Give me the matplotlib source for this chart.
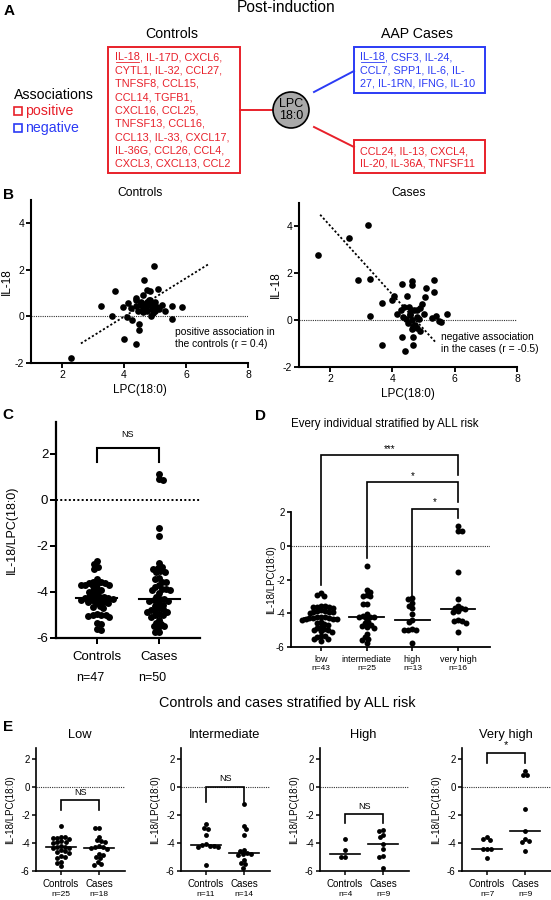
import numpy as np
import matplotlib
matplotlib.use('Agg')
import matplotlib.pyplot as plt
from matplotlib.patches import Rectangle, Circle

plt.rcParams['font.family'] = ['Liberation Sans', 'DejaVu Sans']
plt.rcParams['axes.unicode_minus'] = False

RED = '#e8202a'
BLUE = '#2b3bf5'

# ---------------- data ----------------
controls_genes = ["IL-18", ", IL-17D, CXCL6,", "CYTL1, IL-32, CCL27,", "TNFSF8, CCL15,",
                  "CCL14, TGFB1,", "CXCL16, CCL25,", "TNFSF13, CCL16,", "CCL13, IL-33, CXCL17,",
                  "IL-36G, CCL26, CCL4,", "CXCL3, CXCL13, CCL2"]
cases_neg_genes = ["IL-18", ", CSF3, IL-24,", "CCL7, SPP1, IL-6, IL-", "27, IL-1RN, IFNG, IL-10"]
cases_pos_genes = ["CCL24, IL-13, CXCL4,", "IL-20, IL-36A, TNFSF11"]

b_ctrl_x = [4.98, 4.66, 3.71, 4.73, 4.84, 5.11, 3.26, 3.98, 4.14, 4.39, 4.39, 4.60, 4.23, 4.52,
            4.62, 4.73, 4.78, 4.89, 4.95, 5.05, 4.62, 4.73, 4.84, 5.00, 5.14, 5.32, 5.24, 5.56,
            5.86, 3.60, 4.11, 4.25, 4.87, 5.56, 4.49, 4.48, 4.01, 4.39, 2.28,
            4.55, 4.70, 4.45, 4.92, 4.80, 4.68, 5.00, 4.40]
b_ctrl_y = [2.15, 1.57, 1.08, 1.14, 1.08, 1.18, 0.44, 0.40, 0.58, 0.79, 0.69, 0.93, 0.37, 0.47,
            0.32, 0.60, 0.47, 0.33, 0.54, 0.40, 0.17, 0.24, 0.69, 0.24, 0.33, 0.24, 0.49, 0.46,
            0.40, 0.00, -0.02, -0.15, 0.03, -0.09, -0.33, -0.59, -0.97, -1.18, -1.77,
            0.62, 0.38, 0.25, 0.15, 0.72, 0.52, 0.60, 0.45]
b_case_x = [1.62, 2.61, 3.20, 2.88, 3.28, 3.28, 3.66, 3.66, 3.98, 4.05, 4.32, 4.16, 4.27, 4.38,
            4.48, 4.52, 4.60, 4.64, 4.64, 4.70, 4.58, 4.45, 4.50, 4.64, 4.78, 4.80, 4.89, 5.02,
            4.94, 5.05, 5.08, 5.32, 5.32, 5.27, 5.39, 5.48, 5.57, 5.75, 4.67, 4.78, 4.62, 4.89,
            4.32, 4.67, 4.67, 4.41, 4.55, 4.85, 4.35, 4.72]
b_case_y = [2.79, 3.50, 4.07, 1.70, 1.77, 0.17, 0.74, -1.04, 0.85, 1.03, 1.56, 0.26, 0.43, 0.57,
            1.02, 0.57, 0.43, 1.66, 1.49, 0.43, 0.26, 0.07, -0.11, 0.00, 0.14, 0.43, 0.50, 0.28,
            0.70, 0.97, 1.39, 1.70, 1.20, 0.09, 0.17, -0.03, -0.07, 0.28, -0.26, -0.35, -0.39,
            -0.45, -0.71, -0.74, -1.06, -1.32, 0.20, 0.05, 0.15, -0.20]
b_ctrl_fit_x = [2.61, 6.71]
b_ctrl_fit_y = [-1.16, 2.23]
b_case_fit_x = [1.68, 5.37]
b_case_fit_y = [4.50, -0.92]

risk_groups = ["low", "intermediate", "high", "very high"]
risk_titles = ["Low", "Intermediate", "High", "Very high"]
low_ctrl = [-2.8, -3.55, -3.6, -3.62, -3.65, -3.7, -3.85, -3.9, -3.95, -4.0, -4.2, -4.25, -4.3,
            -4.35, -4.35, -4.5, -4.6, -4.65, -4.7, -4.95, -5.0, -5.05, -5.35, -5.4, -5.65]
low_case = [-2.9, -2.95, -3.55, -3.8, -3.85, -3.9, -4.2, -4.3, -4.3, -4.35, -4.4, -4.8, -4.85,
            -5.0, -5.1, -5.35, -5.5, -5.55]
int_ctrl = [-2.65, -2.9, -3.0, -3.45, -4.05, -4.15, -4.2, -4.2, -4.25, -4.3, -5.6]
int_case = [-1.2, -2.75, -3.0, -3.45, -4.5, -4.6, -4.7, -4.75, -4.8, -4.85, -5.2, -5.4, -5.5, -5.75]
high_ctrl = [-3.7, -4.5, -5.0, -5.0]
high_case = [-3.1, -3.15, -3.4, -3.55, -4.05, -4.4, -4.95, -5.0, -5.75]
vh_ctrl = [-3.55, -3.7, -3.75, -4.4, -4.45, -4.45, -5.1]
vh_case = [1.15, 0.9, 0.88, -1.55, -3.15, -3.7, -3.85, -3.9, -4.55]
e_ctrl = [low_ctrl, int_ctrl, high_ctrl, vh_ctrl]
e_case = [low_case, int_case, high_case, vh_case]
e_sig = ["NS", "NS", "NS", "*"]

# ---------------- layout helpers ----------------
W, H = 551, 900
fig = plt.figure(figsize=(W / 100, H / 100), dpi=100)
ov = fig.add_axes([0, 0, 1, 1])
ov.set_xlim(0, W)
ov.set_ylim(H, 0)
ov.axis('off')


def add_ax(x0, y0, x1, y1):
    ax = fig.add_axes([x0 / W, 1 - y1 / H, (x1 - x0) / W, (y1 - y0) / H])
    ax.set_facecolor('none')
    return ax


def style_ax(ax, lw=1.4, fs=7, tl=3.5):
    for s in ['top', 'right']:
        ax.spines[s].set_visible(False)
    for s in ['left', 'bottom']:
        ax.spines[s].set_linewidth(lw)
    ax.tick_params(width=lw * 0.9, length=tl, labelsize=fs, pad=1.5)


def swarm_x(ax, xc, vals, d):
    vals = np.asarray(vals, float)
    t = ax.transData
    sx = t.transform((1, 0))[0] - t.transform((0, 0))[0]
    sy = t.transform((0, 1))[1] - t.transform((0, 0))[1]
    ys = vals * sy
    placed = []
    out = np.zeros(len(vals))
    flip = 1
    for i in np.argsort(-vals):
        y = ys[i]
        cands = [0.0]
        for px, py in placed:
            dy = y - py
            if abs(dy) < d:
                dx = np.sqrt(d * d - dy * dy)
                cands += [px + dx + 0.01, px - dx - 0.01]
        cands.sort(key=lambda c: (round(abs(c), 2), -flip * c))
        chosen = 0.0
        for c in cands:
            if all((c - px) ** 2 + (y - py) ** 2 >= d * d - 1e-6 for px, py in placed):
                chosen = c
                break
        flip = -flip
        placed.append((chosen, y))
        out[i] = xc + chosen / sx
    return out


def dot_group(ax, xc, vals, ms, d, mw=0.33, mlw=1.4):
    xs = swarm_x(ax, xc, vals, d)
    ax.plot(xs, vals, 'o', color='k', ms=ms, mew=0, clip_on=False, zorder=3)
    med = np.median(vals)
    ax.plot([xc - mw, xc + mw], [med, med], color='k', lw=mlw, zorder=4)


def bracket(ax, x1, x2, ytop, yl, yr, label, ly, fs, lw=1.2):
    ax.plot([x1, x1, x2, x2], [yl, ytop, ytop, yr], color='k', lw=lw, clip_on=False,
            solid_joinstyle='miter')
    ax.text((x1 + x2) / 2, ly, label, ha='center', va='center', fontsize=fs, clip_on=False)


def cat_labels(ax, labels, ns, fs1, fs2, off1, off2, ndx=0):
    ax.set_xticks(range(len(labels)))
    ax.set_xticklabels([])
    for i, (lab, n) in enumerate(zip(labels, ns)):
        ax.annotate(lab, xy=(i, 0), xycoords=('data', 'axes fraction'), xytext=(0, -off1),
                    textcoords='offset pixels', ha='center', va='center', fontsize=fs1,
                    annotation_clip=False)
        ax.annotate(n, xy=(i, 0), xycoords=('data', 'axes fraction'), xytext=(ndx, -off2),
                    textcoords='offset pixels', ha='center', va='center', fontsize=fs2,
                    annotation_clip=False)


def ylabel_at(ax, text, xpx, x0, x1, fs):
    ax.set_ylabel(text, fontsize=fs, va='center')
    ax.yaxis.set_label_coords((xpx - x0) / (x1 - x0), 0.5)


# ---------------- panel A ----------------
ov.text(9, 11, "A", fontsize=11, fontweight='bold', ha='center', va='center')
ov.text(286, 8, "Post-induction", fontsize=11.2, ha='center', va='center')
ov.text(172, 34, "Controls", fontsize=10.2, ha='center', va='center')
ov.text(417, 34, "AAP Cases", fontsize=10.2, ha='center', va='center')
ov.add_patch(Rectangle((108, 47), 132, 126, fill=False, edgecolor=RED, lw=1.4))
ov.add_patch(Rectangle((354, 47), 131, 46, fill=False, edgecolor=BLUE, lw=1.4))
ov.add_patch(Rectangle((354, 140), 131, 33, fill=False, edgecolor=RED, lw=1.4))
ov.plot([240, 273], [110, 110], color=RED, lw=1.4)
ov.plot([314, 354], [92, 71], color=BLUE, lw=1.4)
ov.plot([314, 354], [127, 147], color=RED, lw=1.4)
ov.add_patch(Circle((291, 110), 18, facecolor='#a9a9a9', edgecolor='k', lw=1.2, zorder=3))
ov.text(291, 110, "LPC\n18:0", fontsize=9, ha='center', va='center', linespacing=1.1, zorder=4)

ov.text(14, 95, "Associations", fontsize=10.2, ha='left', va='center')
ov.add_patch(Rectangle((14, 107), 8, 8, fill=False, edgecolor=RED, lw=1.2))
ov.text(25, 111, "positive", fontsize=10.2, color=RED, ha='left', va='center')
ov.add_patch(Rectangle((14, 124), 8, 8, fill=False, edgecolor=BLUE, lw=1.2))
ov.text(25, 128, "negative", fontsize=10.2, color=BLUE, ha='left', va='center')

renderer = fig.canvas.get_renderer()
inv = ov.transData.inverted()
GFS = 7.8


def first_line(x, y, first, rest, color):
    t = ov.text(x, y, first, fontsize=GFS, color=color, ha='left', va='center')
    bb = t.get_window_extent(renderer)
    (xa, yb), (xb, yt) = inv.transform([[bb.x0, bb.y0], [bb.x1, bb.y1]])
    ov.text(xb, y, rest, fontsize=GFS, color=color, ha='left', va='center')
    ov.plot([xa + 0.5, xb - 0.5], [y + 4.3, y + 4.3], color=color, lw=0.6)


first_line(115, 57.3, controls_genes[0], controls_genes[1], RED)
for k, line in enumerate(controls_genes[2:]):
    ov.text(115, 57.3 + 13.3 * (k + 1), line, fontsize=GFS, color=RED, ha='left', va='center')
first_line(360, 57.3, cases_neg_genes[0], cases_neg_genes[1], BLUE)
for k, line in enumerate(cases_neg_genes[2:]):
    ov.text(360, 57.3 + 13.3 * (k + 1), line, fontsize=GFS, color=BLUE, ha='left', va='center')
for k, line in enumerate(cases_pos_genes):
    ov.text(360, 151.5 + 12.2 * k, line, fontsize=GFS, color=RED, ha='left', va='center')

# ---------------- panel B ----------------
ov.text(8, 195, "B", fontsize=11, fontweight='bold', ha='center', va='center')
for (x0, y0, x1, y1), xs, ys, fx, fy, title, ann, ann_xy, ylx in [
        ((31, 200, 248, 363), b_ctrl_x, b_ctrl_y, b_ctrl_fit_x, b_ctrl_fit_y, "Controls",
         "positive association in\nthe controls (r = 0.4)", (175, 338), 7),
        ((299, 203, 517, 367), b_case_x, b_case_y, b_case_fit_x, b_case_fit_y, "Cases",
         "negative association\nin the cases (r = -0.5)", (441, 343), 276)]:
    ax = add_ax(x0, y0, x1, y1)
    ax.set_xlim(1, 8)
    ax.set_ylim(-2, 5)
    style_ax(ax, lw=1.5, fs=7.5)
    ax.set_xticks([2, 4, 6, 8])
    ax.set_yticks([-2, 0, 2, 4])
    ax.axhline(0, color='#333333', lw=0.8, ls=(0, (1, 1)))
    ax.plot(fx, fy, color='k', lw=1.3, ls=(0, (1.2, 1.2)))
    ax.plot(xs, ys, 'o', color='k', ms=4.8, mew=0, clip_on=False, zorder=3)
    ax.set_xlabel("LPC(18:0)", fontsize=8.5, labelpad=3)
    ylabel_at(ax, "IL-18", ylx, x0, x1, 8.5)
    ov.text((x0 + x1) / 2 + 1, 193, title, fontsize=8.7, ha='center', va='center')
    ov.text(ann_xy[0], ann_xy[1], ann, fontsize=7.4, ha='left', va='center')

# ---------------- panel C ----------------
ov.text(8, 415, "C", fontsize=11, fontweight='bold', ha='center', va='center')
axC = add_ax(56, 422, 200, 638)
axC.set_xlim(-0.66, 1.66)
axC.set_ylim(-6, 3.39)
style_ax(axC, lw=1.6, fs=9.5, tl=4)
axC.set_yticks([-6, -4, -2, 0, 2])
axC.axhline(0, color='k', lw=1.4, ls=(0, (1, 1.2)))
c_ctrl = sum(e_ctrl, [])
c_case = sum(e_case, [])
dot_group(axC, 0, c_ctrl, 5.0, 4.4, mw=0.33, mlw=1.5)
dot_group(axC, 1, c_case, 5.0, 4.4, mw=0.33, mlw=1.5)
cat_labels(axC, ["Controls", "Cases"], ["n=%d" % len(c_ctrl), "n=%d" % len(c_case)], 9.5, 9,
           19, 40, ndx=-7)
ylabel_at(axC, "IL-18/LPC(18:0)", 12, 56, 200, 9)
bracket(axC, 0, 1, 2.26, 1.65, 1.65, "NS", 2.85, 6.5, lw=1.5)

# ---------------- panel D ----------------
ov.text(260, 416, "D", fontsize=11, fontweight='bold', ha='center', va='center')
ov.text(385, 424, "Every individual stratified by ALL risk", fontsize=8.3, ha='center', va='center')
axD = add_ax(291, 512, 490, 647)
axD.set_xlim(-0.66, 3.7)
axD.set_ylim(-6, 2)
style_ax(axD, lw=1.3, fs=7, tl=3)
axD.set_yticks([-6, -4, -2, 0, 2])
axD.axhline(0, color='#333333', lw=0.8, ls=(0, (1, 1)))
d_groups = [a + b for a, b in zip(e_ctrl, e_case)]
for i, g in enumerate(d_groups):
    dot_group(axD, i, g, 4.3, 4.0, mw=0.38, mlw=1.3)
cat_labels(axD, risk_groups, ["n=%d" % len(g) for g in d_groups], 6.5, 6, 13, 21)
ylabel_at(axD, "IL-18/LPC(18:0)", 271, 291, 490, 7)
bracket(axD, 0, 3, 5.4, -2.3, 4.2, "***", 5.75, 7)
bracket(axD, 1, 3, 3.76, -0.75, 2.6, "*", 4.15, 7)
bracket(axD, 2, 3, 2.2, -3.2, 1.65, "*", 2.6, 7)

# ---------------- panel E ----------------
ov.text(8, 727, "E", fontsize=11, fontweight='bold', ha='center', va='center')
ov.text(287, 703, "Controls and cases stratified by ALL risk", fontsize=10.4, ha='center', va='center')
e_lefts = [36, 181, 320, 462]
e_br = [(-0.95, -1.6, -0.4), (0.0, -1.07, 0.62), (-1.93, -2.6, -1.35), (2.43, 1.7, 3.0)]
for k in range(4):
    x0 = e_lefts[k]
    x1 = x0 + 89
    ax = add_ax(x0, 748, x1, 871)
    ax.set_xlim(-0.66, 1.68)
    ax.set_ylim(-6, 2.8)
    style_ax(ax, lw=1.2, fs=7, tl=3)
    ax.set_yticks([-6, -4, -2, 0, 2])
    ax.axhline(0, color='#333333', lw=0.8, ls=(0, (1, 1)))
    dot_group(ax, 0, e_ctrl[k], 3.5, 4.2, mw=0.4, mlw=1.2)
    dot_group(ax, 1, e_case[k], 3.5, 4.2, mw=0.4, mlw=1.2)
    cat_labels(ax, ["Controls", "Cases"], ["n=%d" % len(e_ctrl[k]), "n=%d" % len(e_case[k])],
               7, 6, 13, 24)
    ylabel_at(ax, "IL-18/LPC(18:0)", x0 - 26, x0, x1, 7)
    ytop, yleg, ly = e_br[k]
    bracket(ax, 0, 1, ytop, yleg, yleg, e_sig[k], ly, 6.5 if e_sig[k] == "NS" else 8)
    ov.text((x0 + x1) / 2 - 1, 735, risk_titles[k], fontsize=9.3, ha='center', va='center')

fig.savefig("out.png", dpi=100)
